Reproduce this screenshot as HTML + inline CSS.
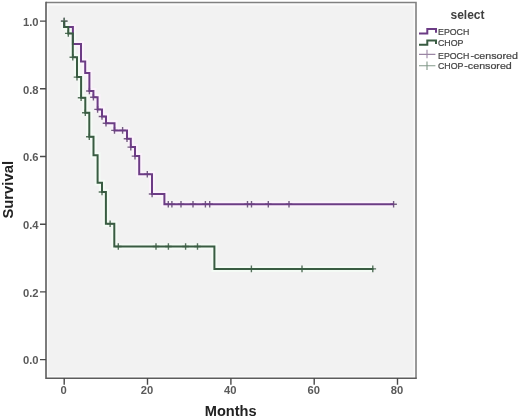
<!DOCTYPE html>
<html><head><meta charset="utf-8"><style>
html,body{margin:0;padding:0;background:#fff;}
body{width:520px;height:418px;overflow:hidden;}
svg{display:block;font-family:"Liberation Sans",sans-serif;will-change:transform;}
</style></head><body>
<svg width="520" height="418" viewBox="0 0 520 418">
<rect x="0" y="0" width="520" height="418" fill="#ffffff"/>
<rect x="46" y="2.5" width="370" height="375.8" fill="#fbfbfb"/>
<rect x="48.2" y="5.5" width="365.3" height="370.6" fill="#f2f2f2"/>
<path d="M46,2.5H416V378.3" stroke="#808080" stroke-width="1.6" fill="none"/>
<path d="M46,1.7V378.3H416.8" stroke="#5c5c5c" stroke-width="1.6" fill="none"/>
<path d="M40,21.1H46M40,88.8H46M40,156.5H46M40,224.2H46M40,291.9H46M40,359.6H46M64.2,378V384.8M147.5,378V384.8M230.9,378V384.8M314.2,378V384.8M397.5,378V384.8" stroke="#4a4a4a" stroke-width="1.4" fill="none"/>
<g fill="#5a5a5a" font-weight="bold"><text transform="translate(38.60,25.80) scale(1.100,1)" text-anchor="end" font-size="10.2" >1.0</text><text transform="translate(38.60,93.50) scale(1.100,1)" text-anchor="end" font-size="10.2" >0.8</text><text transform="translate(38.60,161.20) scale(1.100,1)" text-anchor="end" font-size="10.2" >0.6</text><text transform="translate(38.60,228.90) scale(1.100,1)" text-anchor="end" font-size="10.2" >0.4</text><text transform="translate(38.60,296.60) scale(1.100,1)" text-anchor="end" font-size="10.2" >0.2</text><text transform="translate(38.60,364.30) scale(1.100,1)" text-anchor="end" font-size="10.2" >0.0</text><text transform="translate(63.70,394.40) scale(1.100,1)" text-anchor="middle" font-size="10.2" >0</text><text transform="translate(147.03,394.40) scale(1.100,1)" text-anchor="middle" font-size="10.2" >20</text><text transform="translate(230.35,394.40) scale(1.100,1)" text-anchor="middle" font-size="10.2" >40</text><text transform="translate(313.68,394.40) scale(1.100,1)" text-anchor="middle" font-size="10.2" >60</text><text transform="translate(397.00,394.40) scale(1.100,1)" text-anchor="middle" font-size="10.2" >80</text></g>
<path d="M64.2,21.1 H64.2 V27.0 H72.9 V44.0 H81.0 V61.6 H85.2 V73.0 H89.4 V91.0 H93.4 V97.2 H97.6 V109.4 H102.0 V116.5 H106.0 V123.2 H114.5 V130.4 H127.0 V138.7 H130.8 V147.1 H135.0 V156.1 H139.2 V174.2 H152.0 V194.1 H164.4 V204.3 H394.0" stroke="#fbf2fb" stroke-width="6" fill="none" stroke-linejoin="miter"/>
<path d="M64.2,21.1 H64.2 V27.0 H68.3 V33.4 H72.8 V57.2 H77.0 V77.1 H81.1 V97.7 H85.3 V112.8 H89.3 V136.7 H93.5 V155.2 H97.6 V182.8 H102.0 V192.0 H105.9 V223.8 H114.3 V246.5 H214.4 V268.9 H373.5" stroke="#f4fbf5" stroke-width="6" fill="none" stroke-linejoin="miter"/>
<path d="M60.9,21.1H67.5M64.2,17.8V24.4M86.1,91.0H92.7M89.4,87.7V94.3M90.1,97.2H96.7M93.4,93.9V100.5M94.3,109.4H100.9M97.6,106.1V112.7M98.7,116.5H105.3M102.0,113.2V119.8M102.7,123.2H109.3M106.0,119.9V126.5M111.2,130.4H117.8M114.5,127.1V133.7M119.3,130.4H125.9M122.6,127.1V133.7M123.7,138.7H130.3M127.0,135.4V142.0M127.5,147.1H134.1M130.8,143.8V150.4M131.7,156.1H138.3M135.0,152.8V159.4M144.0,174.2H150.6M147.3,170.9V177.5M148.8,194.0H155.4M152.1,190.7V197.3M165.0,204.3H171.6M168.3,201.0V207.6M168.6,204.3H175.2M171.9,201.0V207.6M177.7,204.3H184.3M181.0,201.0V207.6M189.7,204.3H196.3M193.0,201.0V207.6M202.1,204.3H208.7M205.4,201.0V207.6M206.4,204.3H213.0M209.7,201.0V207.6M244.2,204.3H250.8M247.5,201.0V207.6M248.2,204.3H254.8M251.5,201.0V207.6M265.0,204.3H271.6M268.3,201.0V207.6M285.7,204.3H292.3M289.0,201.0V207.6M390.3,204.3H396.9M393.6,201.0V207.6" stroke="#735f80" stroke-width="1.4" fill="none"/>
<path d="M64.2,21.1 H64.2 V27.0 H72.9 V44.0 H81.0 V61.6 H85.2 V73.0 H89.4 V91.0 H93.4 V97.2 H97.6 V109.4 H102.0 V116.5 H106.0 V123.2 H114.5 V130.4 H127.0 V138.7 H130.8 V147.1 H135.0 V156.1 H139.2 V174.2 H152.0 V194.1 H164.4 V204.3 H394.0" stroke="#6c3c85" stroke-width="2" fill="none" stroke-linejoin="miter"/>
<path d="M60.9,21.1H67.5M64.2,17.8V24.4M65.0,33.4H71.6M68.3,30.1V36.7M69.5,57.2H76.1M72.8,53.9V60.5M73.7,77.1H80.3M77.0,73.8V80.4M77.8,97.7H84.4M81.1,94.4V101.0M82.0,112.8H88.6M85.3,109.5V116.1M86.0,136.7H92.6M89.3,133.4V140.0M98.7,192.0H105.3M102.0,188.7V195.3M106.8,223.7H113.4M110.1,220.4V227.0M115.0,246.5H121.6M118.3,243.2V249.8M152.7,246.5H159.3M156.0,243.2V249.8M165.1,246.5H171.7M168.4,243.2V249.8M182.3,246.5H188.9M185.6,243.2V249.8M194.2,246.5H200.8M197.5,243.2V249.8M248.1,268.9H254.7M251.4,265.6V272.2M298.7,268.9H305.3M302.0,265.6V272.2M369.5,268.9H376.1M372.8,265.6V272.2" stroke="#56705c" stroke-width="1.4" fill="none"/>
<path d="M64.2,21.1 H64.2 V27.0 H68.3 V33.4 H72.8 V57.2 H77.0 V77.1 H81.1 V97.7 H85.3 V112.8 H89.3 V136.7 H93.5 V155.2 H97.6 V182.8 H102.0 V192.0 H105.9 V223.8 H114.3 V246.5 H214.4 V268.9 H373.5" stroke="#395c42" stroke-width="2" fill="none" stroke-linejoin="miter"/>
<text x="230.7" y="415.5" text-anchor="middle" font-size="14.6" font-weight="bold" fill="#222">Months</text>
<text transform="translate(13.4,189.8) rotate(-90)" text-anchor="middle" font-size="14.8" font-weight="bold" fill="#222">Survival</text>
<text x="467.5" y="18.7" text-anchor="middle" font-size="12" font-weight="bold" fill="#404040">select</text>
<path d="M419,33.5H427.3V29H436V32.8" stroke="#6c3c85" stroke-width="2" fill="none"/>
<path d="M419,44.7H427.3V40.5H436V44" stroke="#395c42" stroke-width="2" fill="none"/>
<path d="M419,54.4H435.4M427,49.8V58.3" stroke="#9a86a4" stroke-width="1.1" fill="none"/>
<path d="M419,65.7H435.4M427,61.5V70" stroke="#82998a" stroke-width="1.1" fill="none"/>
<g fill="#444" stroke="#444" stroke-width="0.22"><text transform="translate(438.00,35.40) scale(0.900,1)" text-anchor="start" font-size="9.8" >EPOCH</text><text transform="translate(438.00,45.80) scale(0.900,1)" text-anchor="start" font-size="9.8" >CHOP</text><text transform="translate(438.00,58.70) scale(0.900,1)" text-anchor="start" font-size="9.8" >EPOCH</text><text transform="translate(470.40,58.70) scale(1.090,1)" text-anchor="start" font-size="9.8" >-censored</text><text transform="translate(438.00,68.80) scale(0.900,1)" text-anchor="start" font-size="9.8" >CHOP</text><text transform="translate(464.30,68.80) scale(1.090,1)" text-anchor="start" font-size="9.8" >-censored</text></g>
</svg>
</body></html>
